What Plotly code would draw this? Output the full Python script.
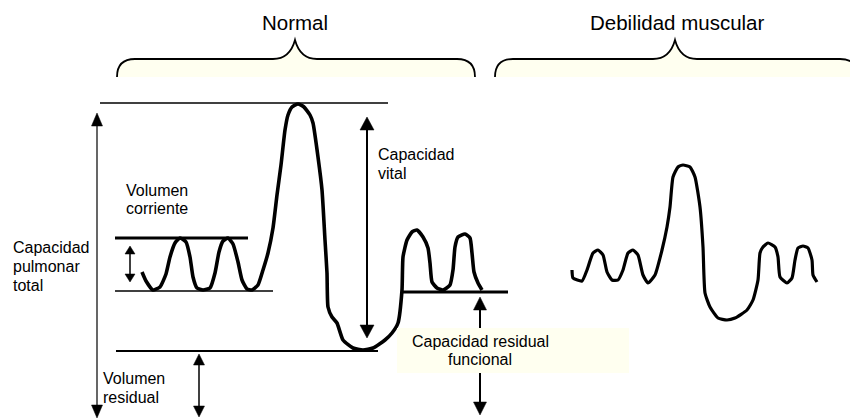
import plotly.graph_objects as go

# ---- traced spirogram data (pixel space of the 850x420 diagram) ----
normal_x = [142, 146, 153, 160, 166, 170, 175, 180, 186, 190, 193, 197, 203, 210, 215, 219, 223, 228, 233, 238,
            242, 247, 252, 258, 263, 268, 273, 277, 281, 285, 288, 292, 298, 304, 310, 313, 318, 322, 325, 327,
            328, 332, 337, 343, 353, 363, 373, 385, 392, 398, 402, 403, 407, 412, 417, 423, 428, 430, 432, 437,
            443, 450, 453, 455, 458, 465, 470, 472, 474, 478, 482]
normal_y = [272, 281, 290, 287, 274, 257, 243, 238, 242, 257, 277, 288, 290, 288, 273, 252, 241, 238, 244, 262,
            280, 289, 290, 285, 270, 253, 228, 195, 165, 130, 115, 107, 104, 107, 115, 123, 157, 190, 240, 273,
            307, 317, 323, 340, 348, 350, 348, 340, 333, 323, 290, 257, 240, 232, 230, 237, 248, 263, 282, 288,
            290, 285, 270, 247, 237, 234, 238, 253, 272, 283, 290]

weak_x = [572, 573, 582, 587, 593, 598, 603, 607, 612, 618, 623, 628, 633, 638, 643, 648, 655, 662, 667, 670,
          673, 678, 683, 690, 695, 700, 703, 705, 710, 718, 727, 735, 747, 753, 758, 760, 763, 768, 775, 778,
          780, 787, 792, 795, 798, 803, 808, 812, 813, 817]
weak_y = [270, 278, 281, 270, 253, 250, 255, 272, 280, 280, 270, 253, 250, 255, 275, 283, 275, 250, 227, 207,
          177, 167, 165, 167, 177, 207, 247, 293, 307, 318, 320, 318, 310, 300, 280, 253, 247, 243, 247, 257,
          277, 283, 278, 260, 248, 246, 248, 260, 275, 282]

group_titles = ["Normal", "Debilidad muscular"]
labels = {
    "vc": ["Volumen", "corriente"],
    "cpt": ["Capacidad", "pulmonar", "total"],
    "cv": ["Capacidad", "vital"],
    "vr": ["Volumen", "residual"],
    "crf": ["Capacidad residual", "funcional"],
}

FONT = "Liberation Sans, Arial, Helvetica, sans-serif"
IVORY = "#FFFFF0"

fig = go.Figure()
shapes = []
annotations = []


def hline(x0, x1, y, w):
    shapes.append(dict(type="line", x0=x0, x1=x1, y0=y, y1=y, line=dict(color="black", width=w)))


def vline(x, y0, y1, w):
    shapes.append(dict(type="line", x0=x, x1=x, y0=y0, y1=y1, line=dict(color="black", width=w)))


def head(x, tip, direction, hw, hl):
    base = tip + hl if direction == "up" else tip - hl
    shapes.append(dict(type="path",
                       path=f"M {x},{tip} L {x-hw/2},{base} L {x+hw/2},{base} Z",
                       fillcolor="black", line=dict(color="black", width=0.5)))


def darrow(x, ytop, ybot, w, hw, hl):
    vline(x, ytop + hl - 1, ybot - hl + 1, w)
    head(x, ytop, "up", hw, hl)
    head(x, ybot, "down", hw, hl)


# ---- braces ----
def brace(xl, xm, xr, ytop, ybot, ytip):
    r = ybot - ytop
    fill = (f"M {xl},{ybot} Q {xl},{ytop} {xl+r},{ytop} L {xm-22},{ytop} "
            f"C {xm-10},{ytop} {xm-3},{ytop-8} {xm},{ytip} "
            f"C {xm+3},{ytop-8} {xm+10},{ytop} {xm+22},{ytop} L {xr-r},{ytop} Q {xr},{ytop} {xr},{ybot} Z")
    shapes.append(dict(type="path", path=fill, fillcolor=IVORY, line=dict(width=0), layer="below"))
    shapes.append(dict(type="path", path=fill.replace(" Z", ""), line=dict(color="black", width=1.8)))


brace(117, 295, 475, 59, 77, 40)
brace(495, 675, 858, 59, 77, 40)

# ---- level lines ----
hline(100, 388, 103, 1.3)     # total lung capacity
hline(115, 248, 238, 3)       # tidal top
hline(115, 273, 291, 1.5)     # tidal bottom
hline(116, 378, 351, 2)       # residual volume level
hline(403, 508, 292, 3)       # FRC level

# ---- arrows ----
darrow(97, 113, 418, 1.2, 11, 13)
darrow(367, 117, 338, 2, 14, 13)
darrow(130, 246, 282, 1.5, 10, 8)
darrow(199, 354, 417, 1.5, 11, 11)
darrow(480, 297, 415, 2, 13, 13)

# ---- FRC label box (above the arrow) ----
shapes.append(dict(type="rect", x0=397, x1=629, y0=328, y1=373, fillcolor=IVORY, line=dict(width=0)))

# ---- curves ----
fig.add_trace(go.Scatter(x=normal_x, y=normal_y, mode="lines",
                         line=dict(color="black", width=3.6, shape="spline", smoothing=0.5),
                         hoverinfo="skip", showlegend=False))
fig.add_trace(go.Scatter(x=weak_x, y=weak_y, mode="lines",
                         line=dict(color="black", width=3.2, shape="spline", smoothing=0.5),
                         hoverinfo="skip", showlegend=False))


def text(s, x, y, size=16, anchor="left"):
    annotations.append(dict(text=s, x=x, y=y, xref="x", yref="y", showarrow=False,
                            xanchor=anchor, yanchor="middle",
                            font=dict(family=FONT, size=size, color="black")))


text(group_titles[0], 295, 22, 20.5, "center")
text(group_titles[1], 677, 22, 20.5, "center")
for i, s in enumerate(labels["vc"]):
    text(s, 124, 190 + 18 * i)
for i, s in enumerate(labels["cpt"]):
    text(s, 11, 247 + 19 * i)
for i, s in enumerate(labels["cv"]):
    text(s, 376, 154 + 19 * i)
for i, s in enumerate(labels["vr"]):
    text(s, 101, 378 + 19 * i)
for i, s in enumerate(labels["crf"]):
    text(s, 480, 341 + 18 * i, anchor="center")

fig.update_layout(
    width=850, height=420,
    margin=dict(l=0, r=0, t=0, b=0),
    paper_bgcolor="white", plot_bgcolor="white",
    xaxis=dict(range=[0, 850], visible=False, fixedrange=True),
    yaxis=dict(range=[420, 0], visible=False, fixedrange=True),
    shapes=shapes, annotations=annotations,
)

fig.write_html("out.html", config={"displayModeBar": False},
               post_script="document.body.style.margin='0';document.body.style.overflow='hidden';")
